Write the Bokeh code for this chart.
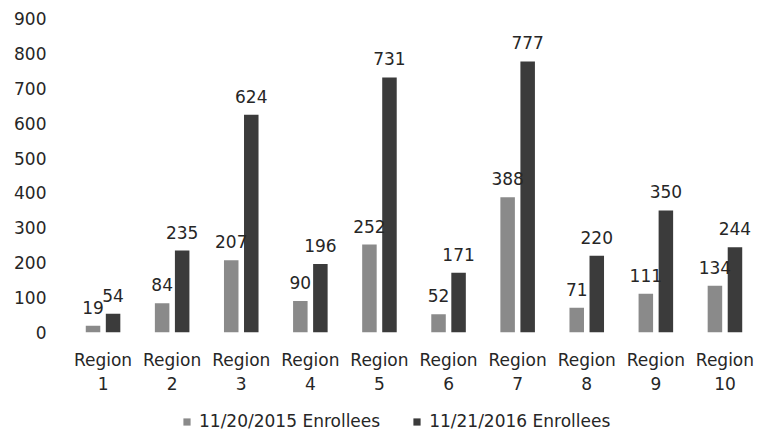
from bokeh.plotting import figure
from bokeh.layouts import column
from bokeh.models import ColumnDataSource, Legend, LegendItem, FixedTicker, LabelSet, Range1d
from bokeh.transform import dodge
from bokeh.core.properties import value
from bokeh.embed import file_html
from bokeh.resources import INLINE

regions = ["Region\n1", "Region\n2", "Region\n3", "Region\n4", "Region\n5",
           "Region\n6", "Region\n7", "Region\n8", "Region\n9", "Region\n10"]
enrollees_2015 = [19, 84, 207, 90, 252, 52, 388, 71, 111, 134]
enrollees_2016 = [54, 235, 624, 196, 731, 171, 777, 220, 350, 244]
y_ticks = [0, 100, 200, 300, 400, 500, 600, 700, 800, 900]
series_names = ["11/20/2015 Enrollees", "11/21/2016 Enrollees"]

FONT = "DejaVu Sans"
TXT = "#262626"
LIGHT = "#8a8a8a"
DARK = "#3b3b3b"

src = ColumnDataSource(dict(
    region=regions,
    v15=enrollees_2015,
    v16=enrollees_2016,
    t15=[str(v) for v in enrollees_2015],
    t16=[str(v) for v in enrollees_2016],
))

p = figure(width=763, height=400, x_range=regions, y_range=(0, 900),
           output_backend="svg", toolbar_location=None,
           min_border_left=68, min_border_right=4, min_border_top=18,
           min_border_bottom=68)
p.background_fill_color = "white"
p.border_fill_color = "white"
p.outline_line_color = None
p.grid.visible = False

r15 = p.vbar(x=dodge("region", -0.145, range=p.x_range), top="v15", width=0.21,
             source=src, fill_color=LIGHT, line_color=None)
r16 = p.vbar(x=dodge("region", 0.145, range=p.x_range), top="v16", width=0.21,
             source=src, fill_color=DARK, line_color=None)

for col, txt, off in (("v15", "t15", -0.145), ("v16", "t16", 0.145)):
    lab = LabelSet(x=dodge("region", off, range=p.x_range), y=col, text=txt,
                   source=src, text_align="center", text_baseline="alphabetic",
                   y_offset=12, text_font=value(FONT), text_font_size="17px",
                   text_color=TXT)
    p.add_layout(lab)

p.yaxis.ticker = FixedTicker(ticks=y_ticks)
for ax in (p.xaxis[0], p.yaxis[0]):
    ax.axis_line_color = None
    ax.major_tick_line_color = None
    ax.minor_tick_line_color = None
    ax.major_label_text_font = FONT
    ax.major_label_text_font_size = "17px"
    ax.major_label_text_color = TXT
p.yaxis.major_label_standoff = 16
p.xaxis.major_label_standoff = 11

# legend strip below the chart (its zero-width bars only feed the legend swatches)
leg = figure(width=763, height=33, x_range=p.x_range, y_range=Range1d(-1000, -999),
             output_backend="svg", toolbar_location=None,
             min_border_left=68, min_border_right=4, min_border_top=0,
             min_border_bottom=0)
leg.axis.visible = False
leg.grid.visible = False
leg.outline_line_color = None
leg.border_fill_color = "white"
leg.background_fill_color = "white"
g15 = leg.vbar(x="region", top="v15", width=0, source=src,
               fill_color=LIGHT, line_color=None)
g16 = leg.vbar(x="region", top="v16", width=0, source=src,
               fill_color=DARK, line_color=None)

legend = Legend(items=[LegendItem(label=series_names[0], renderers=[g15]),
                       LegendItem(label=series_names[1], renderers=[g16])],
                orientation="horizontal", location=(114, 2),
                glyph_width=9, glyph_height=9, label_standoff=8, spacing=32,
                padding=0, margin=0, border_line_color=None,
                background_fill_alpha=0,
                label_text_font=FONT, label_text_font_size="17px",
                label_text_color=TXT)
leg.add_layout(legend, "center")

layout = column(p, leg, spacing=0)
open("out.html", "w").write(file_html(layout, INLINE))
